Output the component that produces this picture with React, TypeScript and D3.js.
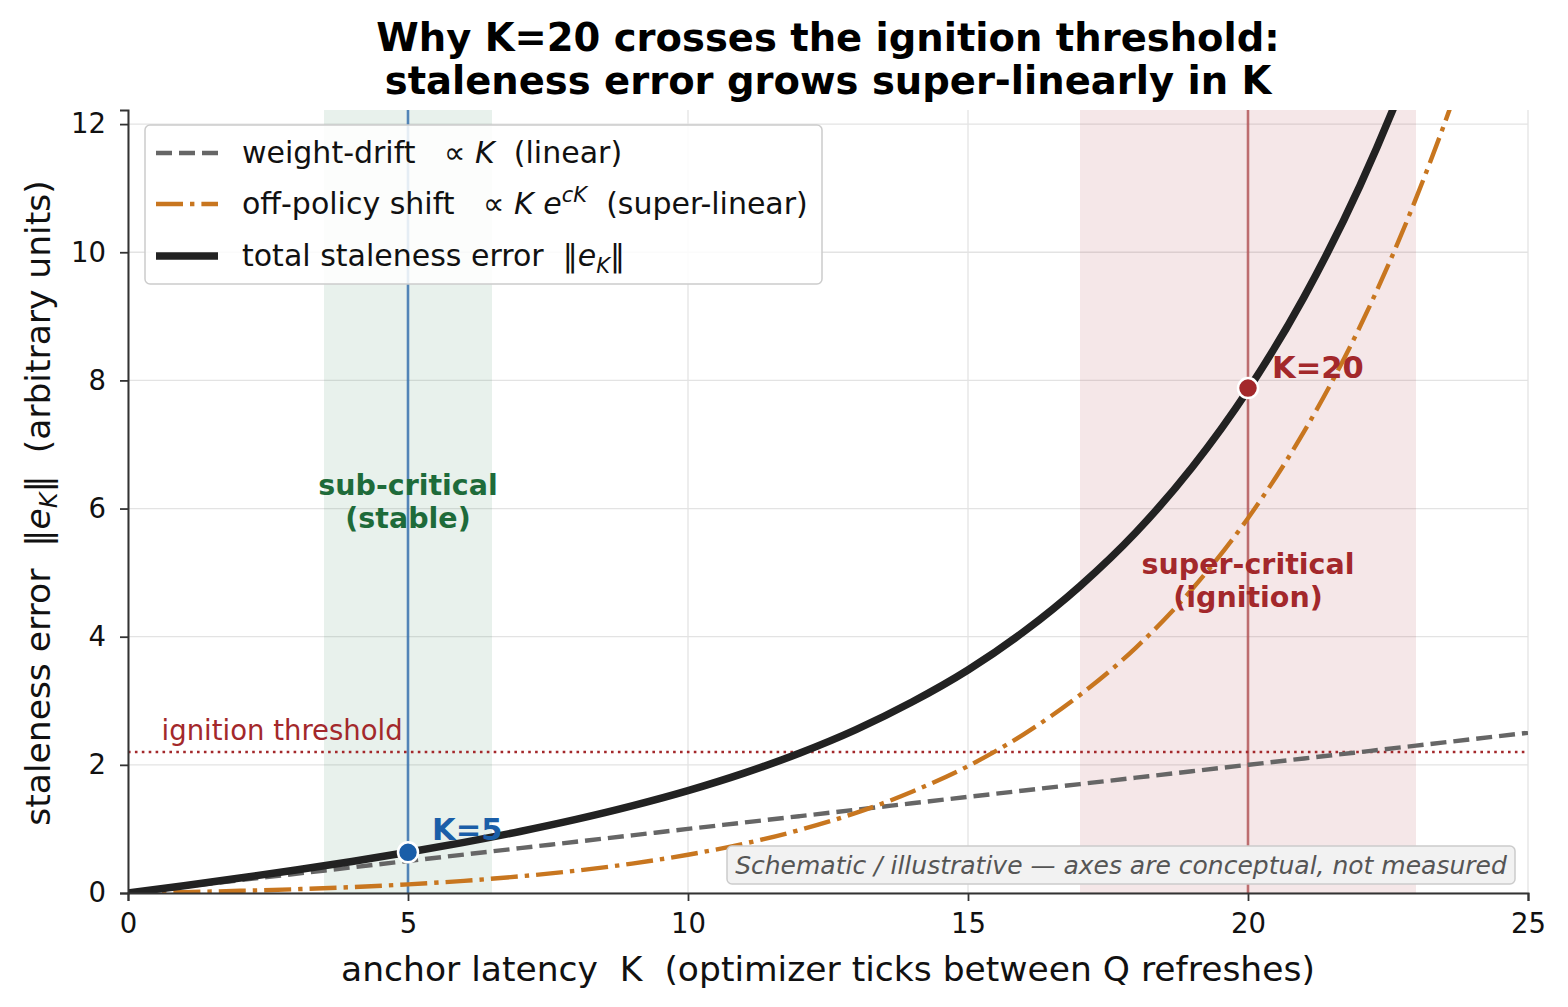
import React, { useRef, useEffect } from 'react';
import * as d3 from 'd3';

// anchor latency K (sampled at integer ticks)
const kValues = [0, 1, 2, 3, 4, 5, 6, 7, 8, 9, 10, 11, 12, 13, 14, 15, 16, 17, 18, 19, 20, 21, 22, 23, 24, 25];
// weight-drift, linear in K
const driftValues = [0, 0.1, 0.2, 0.3, 0.4, 0.5, 0.6, 0.7, 0.8, 0.9, 1.0, 1.1, 1.2, 1.3, 1.4, 1.5, 1.6, 1.7, 1.8, 1.9, 2.0, 2.1, 2.2, 2.3, 2.4, 2.5];
// off-policy shift, super-linear
const shiftValues = [0, 0.014, 0.034, 0.059, 0.092, 0.135, 0.19, 0.26, 0.348, 0.459, 0.597, 0.77, 0.985, 1.25, 1.58, 1.98, 2.48, 3.09, 3.83, 4.74, 5.85, 7.2, 8.84, 10.84, 13.25, 16.2];
// total staleness error
const totalValues = [0, 0.114, 0.234, 0.359, 0.492, 0.635, 0.79, 0.96, 1.148, 1.359, 1.597, 1.87, 2.185, 2.55, 2.98, 3.48, 4.08, 4.79, 5.63, 6.64, 7.85, 9.3, 11.04, 13.14, 15.65, 18.7];

const xTicks = [0, 5, 10, 15, 20, 25];
const yTicks = [0, 2, 4, 6, 8, 10, 12];
const threshold = 2.2;
const stableBand = [3.5, 6.5];
const ignitionBand = [17, 23];
const markers = [
  { k: 5, v: 0.635, label: 'K=5', color: '#1a5ea8', dy: -12 },
  { k: 20, v: 7.88, label: 'K=20', color: '#a3282b', dy: -10 },
];

const FONT = 'DejaVu Sans, sans-serif';
const SP = '\u00A0';

export default function App() {
  const ref = useRef<SVGSVGElement>(null);

  useEffect(() => {
    const W = 1568, H = 1007;
    const left = 128, right = 1528, top = 110, bottom = 893;
    const x = d3.scaleLinear().domain([0, 25]).range([left, right]);
    const y = d3.scaleLinear().domain([0, 12.22]).range([bottom, top]);

    const svg = d3.select(ref.current);
    svg.selectAll('*').remove();
    svg.attr('width', W).attr('height', H).style('font-family', FONT);

    svg.append('defs').append('clipPath').attr('id', 'plotclip')
      .append('rect').attr('x', left).attr('y', top).attr('width', right - left).attr('height', bottom - top);

    // grid
    const grid = svg.append('g');
    grid.selectAll('.gx').data(xTicks).enter().append('line')
      .attr('x1', d => x(d)).attr('x2', d => x(d)).attr('y1', top).attr('y2', bottom)
      .attr('stroke', '#e3e3e3').attr('stroke-width', 1.3);
    grid.selectAll('.gy').data(yTicks).enter().append('line')
      .attr('x1', left).attr('x2', right).attr('y1', d => y(d)).attr('y2', d => y(d))
      .attr('stroke', '#e3e3e3').attr('stroke-width', 1.3);

    // bands
    svg.append('rect').attr('x', x(stableBand[0])).attr('width', x(stableBand[1]) - x(stableBand[0]))
      .attr('y', top).attr('height', bottom - top).attr('fill', '#2e7d4f').attr('opacity', 0.11);
    svg.append('rect').attr('x', x(ignitionBand[0])).attr('width', x(ignitionBand[1]) - x(ignitionBand[0]))
      .attr('y', top).attr('height', bottom - top).attr('fill', '#a3282b').attr('opacity', 0.11);

    // threshold
    svg.append('line').attr('x1', left).attr('x2', right).attr('y1', y(threshold)).attr('y2', y(threshold))
      .attr('stroke', '#a3282b').attr('stroke-width', 2.6).attr('stroke-dasharray', '2.6,4.3');
    svg.append('text').attr('x', x(0.6)).attr('y', y(threshold) - 12).attr('font-size', 27.5)
      .attr('fill', '#a3282b').text('ignition threshold');

    // marker vlines
    svg.append('line').attr('x1', x(5)).attr('x2', x(5)).attr('y1', top).attr('y2', bottom)
      .attr('stroke', '#1a5ea8').attr('stroke-width', 2.6).attr('opacity', 0.7);
    svg.append('line').attr('x1', x(20)).attr('x2', x(20)).attr('y1', top).attr('y2', bottom)
      .attr('stroke', '#a3282b').attr('stroke-width', 2.6).attr('opacity', 0.6);

    // curves
    const curves = svg.append('g').attr('clip-path', 'url(#plotclip)');
    const line = (vals: number[]) => d3.line<number>()
      .x((_, i) => x(kValues[i]))
      .y(d => y(d))
      .curve(d3.curveMonotoneX)(vals);
    curves.append('path').attr('d', line(driftValues)).attr('fill', 'none')
      .attr('stroke', '#666666').attr('stroke-width', 4.4).attr('stroke-dasharray', '16,7');
    curves.append('path').attr('d', line(shiftValues)).attr('fill', 'none')
      .attr('stroke', '#c8761f').attr('stroke-width', 4.4).attr('stroke-dasharray', '27,7,4.4,7');
    curves.append('path').attr('d', line(totalValues)).attr('fill', 'none')
      .attr('stroke', '#222222').attr('stroke-width', 7.5);

    // markers
    markers.forEach(m => {
      svg.append('circle').attr('cx', x(m.k)).attr('cy', y(m.v)).attr('r', 10)
        .attr('fill', m.color).attr('stroke', 'white').attr('stroke-width', 2.5);
      svg.append('text').attr('x', x(m.k) + 24).attr('y', y(m.v) + m.dy)
        .attr('font-size', 30.5).attr('font-weight', 'bold').attr('fill', m.color).text(m.label);
    });

    // region labels
    const regionLabel = (k: number, yb: number, lines: string[], color: string) => {
      const t = svg.append('text').attr('text-anchor', 'middle').attr('font-size', 28.5)
        .attr('font-weight', 'bold').attr('fill', color);
      lines.forEach((l, i) => t.append('tspan').attr('x', x(k)).attr('y', yb + i * 33).text(l));
    };
    regionLabel(5, 495, ['sub-critical', '(stable)'], '#1e6b3a');
    regionLabel(20, 574, ['super-critical', '(ignition)'], '#a3282b');

    // axes
    const xAxis = svg.append('g').attr('transform', `translate(0,${bottom})`)
      .call(d3.axisBottom(x).tickValues(xTicks).tickSize(8).tickPadding(12));
    const yAxis = svg.append('g').attr('transform', `translate(${left},0)`)
      .call(d3.axisLeft(y).tickValues(yTicks).tickSize(8).tickPadding(14));
    [xAxis, yAxis].forEach(a => {
      a.selectAll('text').attr('font-size', 27.5).attr('font-family', FONT).attr('fill', '#111');
      a.selectAll('line').attr('stroke', '#333').attr('stroke-width', 1.8);
      a.select('.domain').attr('stroke', '#333').attr('stroke-width', 2);
    });

    // axis labels
    svg.append('text').attr('x', (left + right) / 2).attr('y', 981).attr('text-anchor', 'middle')
      .attr('font-size', 34.5).attr('fill', '#111')
      .text(`anchor latency${SP}${SP}K${SP}${SP}(optimizer ticks between Q refreshes)`);
    const yl = svg.append('text').attr('transform', `translate(50,503) rotate(-90)`)
      .attr('text-anchor', 'middle').attr('font-size', 34.5).attr('fill', '#111');
    yl.append('tspan').text(`staleness error${SP}${SP}\u2016`);
    yl.append('tspan').attr('font-style', 'italic').text('e');
    yl.append('tspan').attr('font-style', 'italic').attr('font-size', 24).attr('dy', 7).text('K');
    yl.append('tspan').attr('dy', -7).text(`\u2016${SP}${SP}(arbitrary units)`);

    // title
    const title = svg.append('text').attr('text-anchor', 'middle')
      .attr('font-size', 38.5).attr('font-weight', 'bold').attr('fill', '#000');
    title.append('tspan').attr('x', (left + right) / 2).attr('y', 51).text('Why K=20 crosses the ignition threshold:');
    title.append('tspan').attr('x', (left + right) / 2).attr('y', 94).text('staleness error grows super-linearly in K');

    // legend
    const lg = svg.append('g');
    lg.append('rect').attr('x', 145).attr('y', 125).attr('width', 677).attr('height', 159).attr('rx', 5)
      .attr('fill', 'white').attr('fill-opacity', 0.85).attr('stroke', '#cccccc').attr('stroke-width', 1.5);
    const rows = [
      { y: 153, color: '#666666', w: 4.4, dash: '16,7' },
      { y: 204, color: '#c8761f', w: 4.4, dash: '27,7,4.4,7' },
      { y: 256, color: '#222222', w: 7.5, dash: null },
    ];
    rows.forEach(r => {
      const l = lg.append('line').attr('x1', 156).attr('x2', 218).attr('y1', r.y).attr('y2', r.y)
        .attr('stroke', r.color).attr('stroke-width', r.w);
      if (r.dash) l.attr('stroke-dasharray', r.dash);
    });
    const lt = (yy: number) => lg.append('text').attr('x', 242).attr('y', yy + 10).attr('font-size', 30).attr('fill', '#111');
    const t1 = lt(153);
    t1.append('tspan').text(`weight-drift${SP}${SP}${SP}\u221D${SP}`);
    t1.append('tspan').attr('font-style', 'italic').text('K');
    t1.append('tspan').text(`${SP}${SP}(linear)`);
    const t2 = lt(204);
    t2.append('tspan').text(`off-policy shift${SP}${SP}${SP}\u221D${SP}`);
    t2.append('tspan').attr('font-style', 'italic').text(`K${SP}e`);
    t2.append('tspan').attr('font-style', 'italic').attr('font-size', 21).attr('dy', -12).text('cK');
    t2.append('tspan').attr('dy', 12).text(`${SP}${SP}(super-linear)`);
    const t3 = lt(256);
    t3.append('tspan').text(`total staleness error${SP}${SP}\u2016`);
    t3.append('tspan').attr('font-style', 'italic').text('e');
    t3.append('tspan').attr('font-style', 'italic').attr('font-size', 21).attr('dy', 7).text('K');
    t3.append('tspan').attr('dy', -7).text('\u2016');

    // note box
    svg.append('rect').attr('x', 727).attr('y', 846).attr('width', 788).attr('height', 38).attr('rx', 5)
      .attr('fill', '#f2f2f2').attr('stroke', '#cccccc').attr('stroke-width', 1.5);
    svg.append('text').attr('x', 1121).attr('y', 874).attr('text-anchor', 'middle').attr('font-size', 25)
      .attr('font-style', 'italic').attr('fill', '#555')
      .text('Schematic / illustrative \u2014 axes are conceptual, not measured');
  }, []);

  return (
    <div>
      <svg ref={ref} style={{ position: 'absolute', left: 0, top: 0 }} />
    </div>
  );
}
